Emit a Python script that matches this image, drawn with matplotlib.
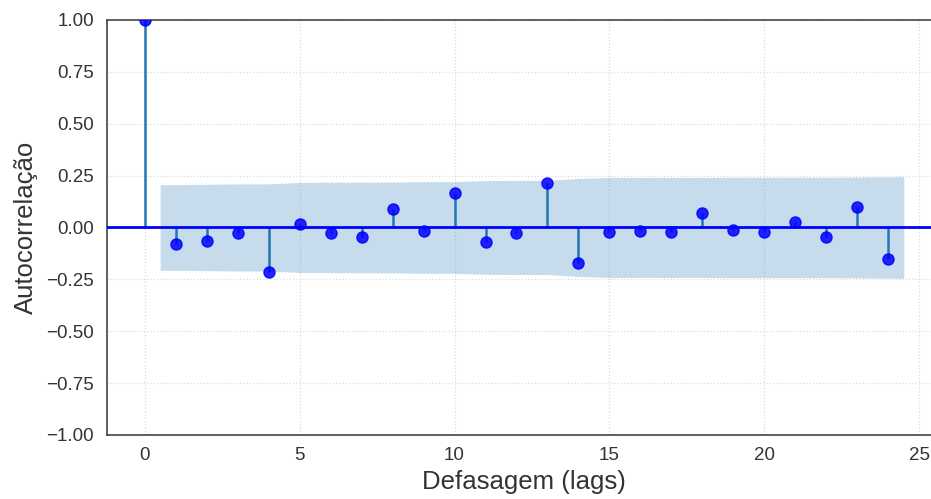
import numpy as np
import matplotlib
matplotlib.use("Agg")
import matplotlib.pyplot as plt

# valores (FAC por defasagem)
lags = np.arange(0, 25)
acf_vals = [1.0, -0.078, -0.066, -0.027, -0.216, 0.019, -0.027, -0.047, 0.090,
            -0.015, 0.168, -0.072, -0.027, 0.213, -0.171, -0.021, -0.015, -0.021,
            0.071, -0.010, -0.021, 0.026, -0.047, 0.097, -0.151]
# meia largura do intervalo de confiança (lags 1..24)
conf_half = [0.206, 0.208, 0.210, 0.210, 0.217, 0.218, 0.218, 0.219, 0.221, 0.221,
             0.226, 0.227, 0.227, 0.236, 0.241, 0.241, 0.241, 0.241, 0.242, 0.242,
             0.242, 0.242, 0.243, 0.245]

plt.rcParams['font.family'] = ['Liberation Sans', 'DejaVu Sans']

fig = plt.figure(figsize=(9.31, 4.99), dpi=100)
ax = fig.add_axes([0.1146, 0.1283, 0.897, 0.8317])

acf = np.array(acf_vals)
conf = np.array(conf_half)

ax.vlines(lags, 0, acf, color='#1f77b4', lw=1.8, zorder=2)
ax.axhline(0, color='blue', lw=2.0, zorder=3)
ax.plot(lags, acf, 'o', color='blue', alpha=0.85, markersize=8, zorder=4)

band_x = lags[1:].astype(float)
band_x[0] -= 0.5
band_x[-1] += 0.5
ax.fill_between(band_x, -conf, conf, color='#1f77b4', alpha=0.25, lw=0, zorder=1)

ax.margins(x=0.05)
ax.set_ylim(-1, 1)
ax.set_yticks(np.arange(-1, 1.01, 0.25))
ax.set_xticks([0, 5, 10, 15, 20, 25])

ax.grid(True, ls=':', color='#dcdcdc', lw=0.9)
ax.set_axisbelow(True)
for s in ax.spines.values():
    s.set_color('#444444')
    s.set_linewidth(1.2)

ax.tick_params(length=0, labelsize=13.5, colors='#333333', pad=9)
ax.set_xlabel('Defasagem (lags)', fontsize=18.5, color='#333333', labelpad=4)
ax.set_ylabel('Autocorrelação', fontsize=18.5, color='#333333', labelpad=6)

fig.savefig('out.png', dpi=100)
